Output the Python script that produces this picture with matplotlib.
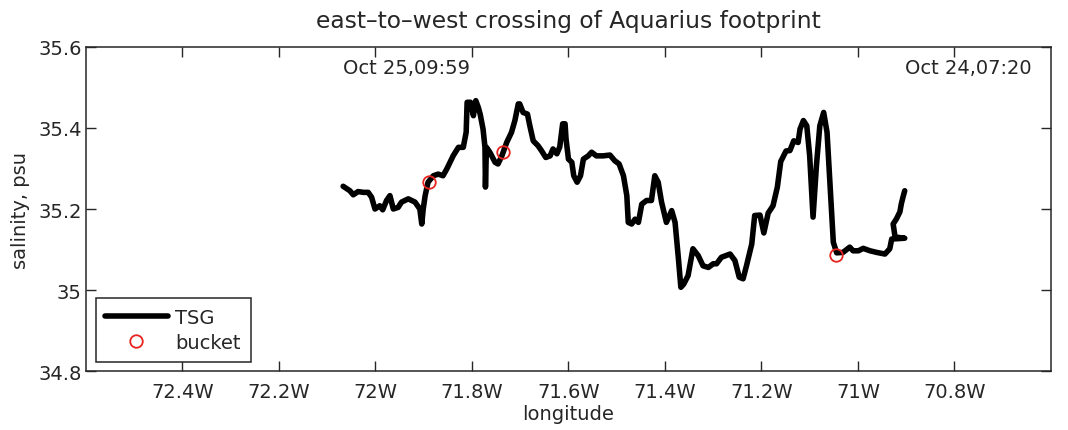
import matplotlib
matplotlib.use("Agg")
import matplotlib.pyplot as plt
from matplotlib.ticker import FuncFormatter

# TSG track, longitude (deg E) and salinity (psu), west end first
lon = [-72.067, -72.053, -72.046, -72.036, -72.025, -72.015, -72.008, -72.001,
       -71.991, -71.985, -71.977, -71.970, -71.963, -71.953, -71.946, -71.932,
       -71.918, -71.908, -71.904, -71.901, -71.897, -71.891, -71.880, -71.870,
       -71.860, -71.852, -71.839, -71.828, -71.818, -71.812, -71.810, -71.803,
       -71.797, -71.792, -71.787, -71.783, -71.777, -71.773, -71.772, -71.770,
       -71.763, -71.752, -71.746, -71.738, -71.728, -71.718, -71.711, -71.704,
       -71.701, -71.694, -71.685, -71.680, -71.673, -71.663, -71.656, -71.647,
       -71.638, -71.632, -71.624, -71.618, -71.612, -71.607, -71.605, -71.600,
       -71.593, -71.589, -71.582, -71.575, -71.569, -71.559, -71.552, -71.542,
       -71.528, -71.514, -71.504, -71.495, -71.486, -71.479, -71.476, -71.469,
       -71.462, -71.455, -71.448, -71.438, -71.428, -71.421, -71.414, -71.407,
       -71.397, -71.386, -71.379, -71.372, -71.367, -71.361, -71.352, -71.342,
       -71.331, -71.321, -71.310, -71.300, -71.293, -71.283, -71.265, -71.255,
       -71.246, -71.238, -71.231, -71.220, -71.214, -71.203, -71.195, -71.186,
       -71.176, -71.167, -71.160, -71.149, -71.141, -71.133, -71.124, -71.120,
       -71.113, -71.106, -71.100, -71.093, -71.086, -71.079, -71.071, -71.064,
       -71.058, -71.051, -71.044, -71.031, -71.017, -71.010, -70.999, -70.989,
       -70.975, -70.961, -70.944, -70.934, -70.930, -70.903, -70.923, -70.927,
       -70.920, -70.913, -70.910, -70.906, -70.903]
sal = [35.256, 35.245, 35.235, 35.243, 35.241, 35.241, 35.229, 35.200,
       35.208, 35.198, 35.221, 35.233, 35.200, 35.204, 35.217, 35.225,
       35.217, 35.200, 35.163, 35.200, 35.233, 35.266, 35.282, 35.286,
       35.282, 35.299, 35.331, 35.352, 35.352, 35.389, 35.463, 35.463,
       35.430, 35.467, 35.451, 35.434, 35.397, 35.352, 35.254, 35.352,
       35.340, 35.315, 35.311, 35.331, 35.364, 35.389, 35.418, 35.459,
       35.459, 35.438, 35.434, 35.405, 35.368, 35.356, 35.344, 35.327,
       35.331, 35.348, 35.336, 35.353, 35.410, 35.410, 35.373, 35.323,
       35.315, 35.282, 35.266, 35.282, 35.323, 35.331, 35.340, 35.331,
       35.331, 35.333, 35.319, 35.311, 35.282, 35.233, 35.167, 35.163,
       35.175, 35.167, 35.212, 35.221, 35.221, 35.282, 35.266, 35.217,
       35.167, 35.196, 35.167, 35.077, 35.007, 35.015, 35.036, 35.102,
       35.085, 35.060, 35.056, 35.065, 35.065, 35.081, 35.089, 35.073,
       35.032, 35.028, 35.060, 35.114, 35.184, 35.185, 35.141, 35.190,
       35.208, 35.254, 35.317, 35.343, 35.344, 35.368, 35.364, 35.397,
       35.418, 35.405, 35.331, 35.180, 35.307, 35.405, 35.438, 35.389,
       35.266, 35.118, 35.092, 35.093, 35.106, 35.097, 35.097, 35.103,
       35.097, 35.093, 35.089, 35.102, 35.126, 35.128, 35.131, 35.163,
       35.176, 35.193, 35.213, 35.232, 35.245]

# bucket samples
bucket_lon = [-71.889, -71.735, -71.046]
bucket_sal = [35.266, 35.340, 35.086]

# start / end times of the crossing
t_west = "Oct 25,09:59"
t_east = "Oct 24,07:20"

xticks = [-72.4, -72.2, -72.0, -71.8, -71.6, -71.4, -71.2, -71.0, -70.8]
yticks = [34.8, 35.0, 35.2, 35.4, 35.6]

ink = "#262626"
plt.rcParams["font.family"] = "DejaVu Sans"
plt.rcParams["font.size"] = 14

fig = plt.figure(figsize=(10.68, 4.31), dpi=100)
ax = fig.add_axes([0.0805, 0.1362, 0.9035, 0.7531])

ax.plot(lon, sal, color="black", lw=4.0, solid_joinstyle="round",
        solid_capstyle="round", label="TSG")
ax.plot(bucket_lon, bucket_sal, "o", mfc="none", mec="#e8231f", ms=9,
        mew=1.3, label="bucket")

ax.text(lon[0], 35.548, t_west, ha="left", va="center", color=ink)
ax.text(lon[-1], 35.548, t_east, ha="left", va="center", color=ink)

ax.set_xlim(-72.6, -70.6)
ax.set_ylim(34.8, 35.6)
ax.set_xticks(xticks)
ax.set_yticks(yticks)
ax.xaxis.set_major_formatter(FuncFormatter(lambda v, p: "%gW" % abs(round(v, 1))))
ax.yaxis.set_major_formatter(FuncFormatter(lambda v, p: "%g" % round(v, 1)))
ax.tick_params(direction="in", length=7, width=1, top=True, right=True,
               colors=ink, labelcolor=ink)
ax.tick_params(axis="x", pad=8)
ax.tick_params(axis="y", pad=3)
for s in ax.spines.values():
    s.set_color(ink)
    s.set_linewidth(1.1)

ax.set_xlabel("longitude", color=ink, labelpad=2)
ax.set_ylabel("salinity, psu", color=ink, labelpad=6)
ax.set_title("east\u2013to\u2013west crossing of Aquarius footprint", color=ink,
             pad=14)

leg = ax.legend(loc="lower left", bbox_to_anchor=(0.01, 0.03), fancybox=False,
                framealpha=1, edgecolor=ink, borderpad=0.5, handlelength=3.2,
                handletextpad=0.4, labelspacing=0.3, borderaxespad=0)
leg.get_frame().set_linewidth(1.1)
for t in leg.get_texts():
    t.set_color(ink)

fig.savefig("out.png", dpi=100)
